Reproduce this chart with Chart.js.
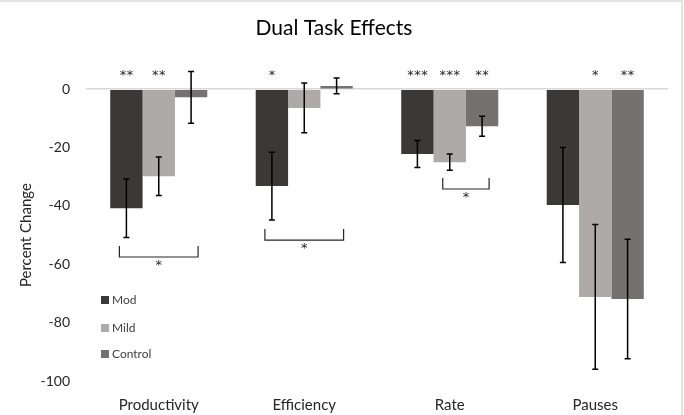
<!DOCTYPE html>
<html>
<head>
<meta charset="utf-8">
<script src="https://cdn.jsdelivr.net/npm/chart.js@4.4.1/dist/chart.umd.min.js"></script>
<style>
  html, body { margin: 0; padding: 0; background: #fff; }
  #wrap { width: 684px; height: 415px; position: relative; }
</style>
</head>
<body>
<div id="wrap"><canvas id="chart"></canvas></div>
<script>
  const categories = ["Productivity", "Efficiency", "Rate", "Pauses"];
  const yTicks = [0, -20, -40, -60, -80, -100];

  const modValues     = [-40.8, -33.2, -22.2, -39.7];
  const mildValues    = [-29.8, -6.4, -25.0, -71.2];
  const controlValues = [-2.8, 1.1, -12.7, -71.9];

  const modErrors     = [10.0, 11.6, 4.6, 19.7];
  const mildErrors    = [6.6, 8.5, 2.8, 24.8];
  const controlErrors = [8.9, 2.7, 3.4, 20.5];

  const modStars     = ["**", "*", "***", ""];
  const mildStars    = ["**", "", "***", "*"];
  const controlStars = ["", "", "**", "**"];

  // [category index, from series, to series, value of bracket bottom]
  const brackets = [
    [0, 0, 2, -57.5],
    [1, 0, 2, -51.7],
    [2, 1, 2, -34.2]
  ];

  const FONT = "Lato, 'Liberation Sans', sans-serif";

  const errorBars = {
    id: "errorBars",
    afterDatasetsDraw(chart) {
      const { ctx, scales: { y } } = chart;
      ctx.save();
      ctx.strokeStyle = "#000";
      ctx.lineWidth = 1.5;
      chart.data.datasets.forEach((ds, di) => {
        const meta = chart.getDatasetMeta(di);
        meta.data.forEach((bar, i) => {
          const v = ds.data[i], e = ds.errors[i];
          const top = y.getPixelForValue(v + e);
          const bot = y.getPixelForValue(v - e);
          ctx.beginPath();
          ctx.moveTo(bar.x, top); ctx.lineTo(bar.x, bot);
          ctx.moveTo(bar.x - 3, top); ctx.lineTo(bar.x + 3, top);
          ctx.moveTo(bar.x - 3, bot); ctx.lineTo(bar.x + 3, bot);
          ctx.stroke();
        });
      });
      ctx.restore();
    }
  };

  const annotations = {
    id: "annotations",
    afterDatasetsDraw(chart) {
      const { ctx, scales: { y } } = chart;
      const zero = y.getPixelForValue(0);
      ctx.save();
      ctx.fillStyle = "#262626";
      ctx.font = "13px 'DejaVu Sans', sans-serif";
      ctx.textAlign = "center";
      ctx.textBaseline = "middle";
      chart.data.datasets.forEach((ds, di) => {
        const meta = chart.getDatasetMeta(di);
        meta.data.forEach((bar, i) => {
          const s = ds.stars[i];
          if (!s) return;
          const n = s.length;
          for (let k = 0; k < n; k++) {
            ctx.fillText("*", bar.x + (k - (n - 1) / 2) * 7, zero - 14);
          }
        });
      });
      ctx.strokeStyle = "#262626";
      ctx.lineWidth = 1.2;
      brackets.forEach(([ci, a, b, val]) => {
        const xa = chart.getDatasetMeta(a).data[ci].x - 7;
        const xb = chart.getDatasetMeta(b).data[ci].x + 7;
        const yb = y.getPixelForValue(val);
        ctx.beginPath();
        ctx.moveTo(xa, yb - 11); ctx.lineTo(xa, yb);
        ctx.lineTo(xb, yb); ctx.lineTo(xb, yb - 11);
        ctx.stroke();
        ctx.fillText("*", (xa + xb) / 2, yb + 9);
      });
      ctx.restore();
    }
  };

  const innerLegend = {
    id: "innerLegend",
    afterDraw(chart) {
      const { ctx, chartArea } = chart;
      const rows = [chartArea.bottom - 81, chartArea.bottom - 53, chartArea.bottom - 27];
      ctx.save();
      ctx.font = "12px " + FONT;
      ctx.textBaseline = "middle";
      chart.data.datasets.forEach((ds, i) => {
        const x = chartArea.left + 15;
        ctx.fillStyle = ds.backgroundColor;
        ctx.fillRect(x, rows[i] - 4, 8, 8);
        ctx.fillStyle = "#404040";
        ctx.fillText(ds.label, x + 11, rows[i]);
      });
      // faint frame at top and right edge
      ctx.strokeStyle = "#e4e4e4";
      ctx.lineWidth = 2;
      ctx.beginPath();
      ctx.moveTo(0, 1); ctx.lineTo(chart.width - 2, 1); ctx.lineTo(chart.width - 2, chart.height);
      ctx.stroke();
      ctx.restore();
    }
  };

  const data = {
    labels: categories,
    datasets: [
      { label: "Mod", data: modValues, errors: modErrors, stars: modStars, backgroundColor: "#3b3838" },
      { label: "Mild", data: mildValues, errors: mildErrors, stars: mildStars, backgroundColor: "#aeaaaa" },
      { label: "Control", data: controlValues, errors: controlErrors, stars: controlStars, backgroundColor: "#767171" }
    ]
  };

  new Chart(document.getElementById("chart"), {
    type: "bar",
    data,
    plugins: [errorBars, annotations, innerLegend],
    options: {
      responsive: true,
      maintainAspectRatio: false,
      animation: false,
      layout: { padding: { left: 0, right: 16, top: 0, bottom: 0 } },
      datasets: { bar: { categoryPercentage: 0.667, barPercentage: 1.0, clip: false } },
      plugins: {
        legend: { display: false },
        tooltip: { enabled: false },
        title: {
          display: true,
          text: "Dual Task Effects",
          color: "#000",
          font: { family: FONT, size: 21, weight: "normal" },
          padding: { top: 16, bottom: 48 }
        }
      },
      scales: {
        x: {
          grid: { display: false },
          border: { display: false },
          ticks: { color: "#262626", padding: 7, font: { family: FONT, size: 15 } },
          afterFit(scale) { scale.height = 34; }
        },
        y: {
          min: -100,
          max: 0,
          afterBuildTicks(scale) { scale.ticks = yTicks.map((v) => ({ value: v })); },
          border: { display: false },
          grid: {
            drawTicks: false,
            color: (c) => (c.tick && c.tick.value === 0 ? "#d9d9d9" : "rgba(0,0,0,0)"),
            lineWidth: 1.5
          },
          ticks: { color: "#262626", padding: 16, font: { family: FONT, size: 14 } },
          title: {
            display: true,
            text: "Percent Change",
            color: "#262626",
            font: { family: FONT, size: 15 },
            padding: { top: 17, bottom: 0 }
          },
          afterFit(scale) { scale.width = 86; }
        }
      }
    }
  });
</script>
</body>
</html>
